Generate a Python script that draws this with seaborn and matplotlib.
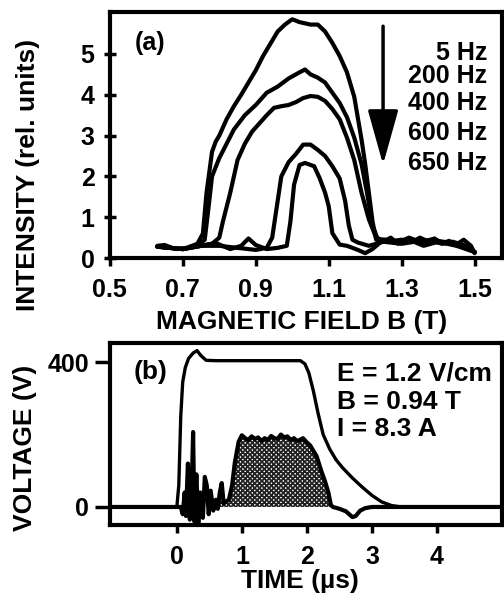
import numpy as np
import matplotlib
matplotlib.use("Agg")
import matplotlib.pyplot as plt
import seaborn as sns

sns.set_style("ticks")
plt.rcParams['font.family'] = ['Liberation Sans', 'DejaVu Sans']
plt.rcParams['font.weight'] = 'bold'
plt.rcParams['text.color'] = 'black'
plt.rcParams['axes.edgecolor'] = 'black'
plt.rcParams['xtick.color'] = 'black'
plt.rcParams['ytick.color'] = 'black'
plt.rcParams['hatch.linewidth'] = 1.3

# ---- panel (a): intensity vs magnetic field, one curve per frequency ----
freq_labels = ['5 Hz', '200 Hz', '400 Hz', '600 Hz', '650 Hz']

b_5hz = [0.63, 0.65, 0.68, 0.71, 0.74, 0.755, 0.765, 0.78, 0.79, 0.80, 0.82, 0.84, 0.86, 0.88,
         0.90, 0.92, 0.94, 0.96, 0.98, 1.00, 1.02, 1.05, 1.07, 1.09, 1.11, 1.13, 1.15, 1.17,
         1.19, 1.20, 1.21, 1.22, 1.23, 1.25, 1.27, 1.29, 1.31, 1.33, 1.35, 1.37, 1.39, 1.41,
         1.43, 1.45, 1.47, 1.49, 1.50]
i_5hz = [0.30, 0.32, 0.22, 0.25, 0.35, 0.6, 1.6, 2.6, 2.85, 3.0, 3.4, 3.72, 4.0, 4.3,
         4.6, 4.95, 5.25, 5.55, 5.72, 5.85, 5.78, 5.72, 5.72, 5.55, 5.27, 4.95, 4.55, 3.95,
         2.9, 2.3, 1.6, 0.9, 0.45, 0.4, 0.5, 0.35, 0.45, 0.4, 0.5, 0.42, 0.48, 0.36,
         0.42, 0.33, 0.45, 0.3, 0.12]

b_200hz = [0.63, 0.66, 0.70, 0.74, 0.76, 0.77, 0.78, 0.80, 0.82, 0.84, 0.87, 0.90, 0.93, 0.96,
           0.99, 1.02, 1.035, 1.05, 1.07, 1.09, 1.11, 1.13, 1.15, 1.17, 1.19, 1.205, 1.22,
           1.235, 1.26, 1.29, 1.32, 1.35, 1.38, 1.41, 1.44, 1.47, 1.50]
i_200hz = [0.28, 0.25, 0.22, 0.3, 0.45, 1.2, 2.0, 2.45, 2.8, 3.15, 3.5, 3.75, 4.05, 4.2,
           4.4, 4.55, 4.62, 4.5, 4.42, 4.3, 4.05, 3.8, 3.45, 2.95, 2.3, 1.6, 0.8,
           0.45, 0.45, 0.38, 0.5, 0.4, 0.45, 0.35, 0.4, 0.32, 0.15]

b_400hz = [0.63, 0.70, 0.75, 0.78, 0.80, 0.81, 0.83, 0.85, 0.87, 0.89, 0.91, 0.93, 0.95, 0.97,
           0.99, 1.01, 1.03, 1.05, 1.07, 1.09, 1.11, 1.13, 1.15, 1.17, 1.19, 1.21, 1.23,
           1.26, 1.30, 1.35, 1.40, 1.45, 1.50]
i_400hz = [0.28, 0.22, 0.3, 0.35, 0.5, 0.9, 1.6, 2.4, 2.8, 3.1, 3.3, 3.5, 3.68, 3.72,
           3.75, 3.82, 3.92, 3.97, 3.95, 3.85, 3.65, 3.4, 2.95, 2.4, 1.6, 0.95, 0.5,
           0.4, 0.45, 0.38, 0.42, 0.35, 0.15]

b_600hz = [0.63, 0.70, 0.75, 0.80, 0.85, 0.90, 0.93, 0.945, 0.955, 0.97, 0.99, 1.01, 1.03,
           1.05, 1.07, 1.09, 1.11, 1.13, 1.145, 1.155, 1.165, 1.18, 1.21, 1.25, 1.30, 1.35,
           1.40, 1.45, 1.50]
i_600hz = [0.28, 0.22, 0.3, 0.3, 0.25, 0.2, 0.25, 0.5, 1.1, 2.0, 2.35, 2.55, 2.78,
           2.78, 2.65, 2.5, 2.25, 1.95, 1.4, 0.8, 0.45, 0.38, 0.3, 0.4, 0.35, 0.42,
           0.38, 0.33, 0.15]

b_650hz = [0.63, 0.70, 0.75, 0.79, 0.83, 0.86, 0.88, 0.90, 0.93, 0.96, 0.985, 0.995, 1.005,
           1.02, 1.035, 1.06, 1.075, 1.09, 1.10, 1.11, 1.13, 1.15, 1.18, 1.20, 1.22, 1.25,
           1.28, 1.32, 1.36, 1.40, 1.45, 1.50]
i_650hz = [0.28, 0.22, 0.3, 0.37, 0.22, 0.3, 0.48, 0.32, 0.22, 0.25, 0.3, 0.9, 1.8,
           2.28, 2.33, 2.25, 1.96, 1.6, 1.27, 0.61, 0.33, 0.3, 0.2, 0.12, 0.22, 0.45,
           0.38, 0.45, 0.3, 0.4, 0.3, 0.15]

curves_a = [(b_5hz, i_5hz), (b_200hz, i_200hz), (b_400hz, i_400hz),
            (b_600hz, i_600hz), (b_650hz, i_650hz)]
label_y = [5.02, 4.45, 3.80, 3.06, 2.33]

# ---- panel (b): applied voltage and signal vs time ----
t_volt = [-1.0, 0.0, 0.03, 0.06, 0.09, 0.13, 0.18, 0.25, 0.31, 0.37, 0.45, 0.6, 1.0, 1.5,
          1.9, 1.97, 2.03, 2.1, 2.17, 2.25, 2.35, 2.45, 2.55, 2.7, 2.85, 3.0, 3.15, 3.3,
          3.45, 5.0]
volt = [0, 0, 60, 250, 345, 385, 410, 425, 432, 418, 405, 404, 404, 404,
        404, 395, 370, 320, 260, 200, 160, 130, 108, 80, 55, 32, 14, 4,
        0, 0]

t_sig = [-1.0, 0.0, 0.06, 0.09, 0.12, 0.14, 0.17, 0.20, 0.23, 0.25, 0.27, 0.30, 0.33, 0.36,
         0.40, 0.43, 0.46, 0.49, 0.52, 0.56, 0.60, 0.63, 0.66, 0.69, 0.72, 0.76, 0.80, 0.85,
         0.89, 0.95, 1.0, 1.05, 1.1, 1.15, 1.2, 1.25, 1.3, 1.35, 1.4, 1.45, 1.5, 1.55, 1.6,
         1.65, 1.7, 1.75, 1.8, 1.85, 1.9, 1.94, 2.0, 2.05, 2.1, 2.15, 2.22, 2.28, 2.33, 2.37,
         2.40, 2.5, 2.6, 2.7, 2.75, 2.82, 2.9, 3.0, 5.0]
sig = [0, 0, 0, -20, 40, -25, 120, -35, 60, 207, -40, 90, -45, 40,
       -30, 83, 60, -20, 45, -10, 20, -5, 40, 66, 10, 15, 20, 60,
       121, 180, 198, 190, 185, 195, 188, 192, 182, 190, 185, 196, 190, 188, 200,
       192, 195, 185, 190, 182, 186, 190, 178, 170, 155, 140, 100, 70, 40, 5,
       0, -5, -12, -28, -25, -10, -3, 0, 0]

params = ['E = 1.2 V/cm', 'B = 0.94 T', 'I = 8.3 A']
params_y = [368, 290, 216]

fig = plt.figure(figsize=(5.04, 5.96), dpi=100)
ax1 = fig.add_axes([0.218, 0.567, 0.778, 0.413])
ax2 = fig.add_axes([0.218, 0.119, 0.778, 0.305])

for bx, iy in curves_a:
    sns.lineplot(x=bx, y=iy, ax=ax1, color='black', lw=3, estimator=None, sort=False)

ax1.annotate('', xy=(1.249, 2.29), xytext=(1.249, 5.68),
             arrowprops=dict(arrowstyle='-|>,head_length=3.4,head_width=0.95',
                             lw=2.5, color='black', mutation_scale=10, shrinkA=0, shrinkB=0))
for lab, yy in zip(freq_labels, label_y):
    ax1.text(1.535, yy, lab, ha='right', va='center', fontsize=18, fontweight='bold')
ax1.text(0.61, 5.27, '(a)', ha='center', va='center', fontsize=18, fontweight='bold')

ax1.set_xlim(0.5, 1.575)
ax1.set_ylim(0, 6.03)
ax1.set_xticks([0.5, 0.7, 0.9, 1.1, 1.3, 1.5])
ax1.set_xticklabels(['0.5', '0.7', '0.9', '1.1', '1.3', '1.5'])
ax1.set_yticks([0, 1, 2, 3, 4, 5])
ax1.tick_params(axis='x', direction='out', length=6, width=2.5, pad=8, labelsize=18)
ax1.tick_params(axis='y', direction='inout', length=8, width=2.5, pad=7, labelsize=18)

# panel (b): shaded signal area, then the two traces
ax2.fill_between(t_sig, sig, 0, where=[(0.6 <= t <= 2.42) for t in t_sig],
                 interpolate=True, facecolor='white', edgecolor='#222222',
                 hatch='xxxxxxx', linewidth=0)
sns.lineplot(x=t_volt, y=volt, ax=ax2, color='black', lw=2.4, estimator=None, sort=False)
sns.lineplot(x=t_sig, y=sig, ax=ax2, color='black', lw=3, estimator=None, sort=False)
ax2.text(-0.41, 372, '(b)', ha='center', va='center', fontsize=19, fontweight='bold')
for txt, yy in zip(params, params_y):
    ax2.text(2.46, yy, txt, ha='left', va='center', fontsize=19, fontweight='bold')

ax2.set_xlim(-1.03, 5.0)
ax2.set_ylim(-50, 452)
ax2.set_xticks([0, 1, 2, 3, 4])
ax2.set_yticks([0, 400])
ax2.tick_params(axis='x', direction='out', length=6, width=2.5, pad=8, labelsize=18)
ax2.tick_params(axis='y', direction='out', length=11, width=2.5, pad=4, labelsize=18)

for ax in (ax1, ax2):
    for sp in ax.spines.values():
        sp.set_visible(True)
        sp.set_linewidth(3)
    for lbl in ax.get_xticklabels() + ax.get_yticklabels():
        lbl.set_fontweight('bold')

fig.text(28 / 504, 1 - 175 / 596, 'INTENSITY (rel. units)', rotation=90,
         ha='center', va='center', fontsize=19, fontweight='bold')
fig.text(302 / 504, 1 - 322 / 596, 'MAGNETIC FIELD B (T)',
         ha='center', va='center', fontsize=19, fontweight='bold')
fig.text(25 / 504, 1 - 448 / 596, 'VOLTAGE (V)', rotation=90,
         ha='center', va='center', fontsize=19, fontweight='bold')
fig.text(300 / 504, 1 - 581 / 596, 'TIME (\u00b5s)',
         ha='center', va='center', fontsize=19, fontweight='bold')

fig.savefig('out.png', dpi=100)
